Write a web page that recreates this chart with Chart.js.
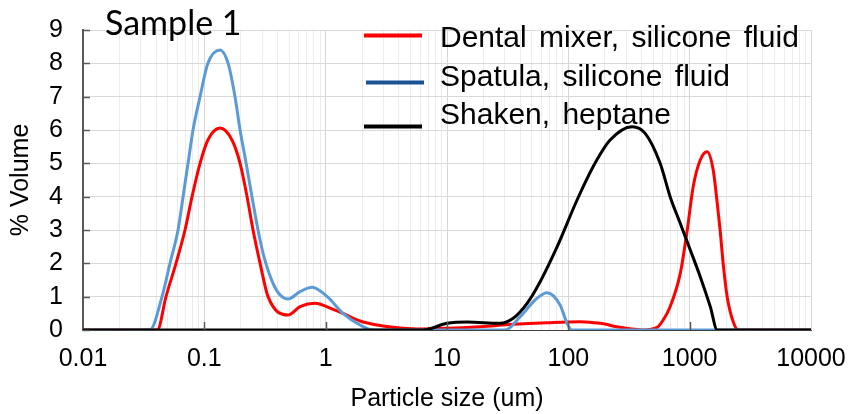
<!DOCTYPE html>
<html>
<head>
<meta charset="utf-8">
<script src="https://cdn.jsdelivr.net/npm/chart.js@4.4.1/dist/chart.umd.min.js"></script>
<style>
  html, body { margin: 0; padding: 0; background: #fff; }
  #wrap { position: relative; width: 852px; height: 414px; }
</style>
</head>
<body>
<div id="wrap"><canvas id="psd" width="852" height="414"></canvas></div>
<script>
// particle size (um) / % volume
const dentalSize = [0.01, 0.041, 0.0483, 0.0584, 0.0693, 0.0792, 0.0922, 0.107, 0.1346, 0.169, 0.197, 0.225, 0.252, 0.288, 0.335, 0.49, 0.615, 0.818, 1.15, 1.39, 1.92, 2.65, 3.6, 5.66, 10, 18.8, 35.1, 66.8, 125, 183, 267, 414, 540, 605, 690, 837, 955, 1069, 1222, 1393, 1563, 1688, 1782, 1888, 2037, 2284, 2512, 10000];
const dentalVol  = [0, 0, 1, 2, 3, 4, 5, 5.7, 6.06, 5.7, 5, 4, 3, 2, 1, 0.45, 0.7, 0.8, 0.62, 0.5, 0.27, 0.15, 0.08, 0.03, 0.05, 0.1, 0.17, 0.22, 0.25, 0.2, 0.08, 0, 0.08, 0.3, 0.7, 1.7, 3.0, 4.3, 5.1, 5.35, 4.8, 3.8, 3.0, 2.0, 1.0, 0.25, 0, 0];

const spatulaSize = [0.01, 0.0356, 0.0448, 0.0521, 0.0607, 0.0668, 0.0734, 0.0807, 0.0922, 0.107, 0.1346, 0.157, 0.179, 0.197, 0.221, 0.247, 0.277, 0.31, 0.368, 0.421, 0.49, 0.615, 0.773, 1.03, 1.39, 1.92, 2.46, 30.1, 40.1, 53.2, 66.8, 85.5, 97.7, 107, 10000];
const spatulaVol  = [0, 0, 1, 2, 3, 4, 5, 6, 7, 8, 8.4, 8, 7, 6, 5, 4, 3, 2.2, 1.4, 1.05, 0.93, 1.15, 1.28, 1.0, 0.5, 0.15, 0, 0, 0.4, 0.9, 1.12, 0.75, 0.2, 0, 0];

const shakenSize = [0.01, 6.35, 10, 14.7, 27.4, 35.1, 45.7, 58.6, 80.9, 118, 160, 221, 336, 430, 571, 690, 836, 1012, 1222, 1479, 1688, 10000];
const shakenVol  = [0, 0, 0.2, 0.24, 0.2, 0.35, 0.8, 1.45, 2.5, 3.9, 4.9, 5.7, 6.1, 5.9, 5.0, 4.0, 3.2, 2.4, 1.6, 0.7, 0, 0];

const seriesNames = ['Dental mixer, silicone fluid', 'Spatula, silicone fluid', 'Shaken, heptane'];
const seriesColors = ['#FF0000', '#5B9BD5', '#000000'];
const legendColors = ['#FF0000', '#1A5296', '#000000'];

const xDecades = [0.01, 0.1, 1, 10, 100, 1000, 10000];
const xTickLabels = ['0.01', '0.1', '1', '10', '100', '1000', '10000'];
const yTicks = [0, 1, 2, 3, 4, 5, 6, 7, 8, 9];

const chartTitle = 'Sample 1';
const xTitle = 'Particle size (um)';
const yTitle = '% Volume';

const toPoints = (xs, ys) => xs.map((x, i) => ({ x: x, y: ys[i] }));

// gridline positions: 1..9 inside every decade
const xGrid = [];
xDecades.slice(0, -1).forEach(d => {
    for (let k = 1; k <= 9; k++) xGrid.push(k === 1 ? d : k * d);
});
xGrid.push(xDecades[xDecades.length - 1]);

const decorPlugin = {
    id: 'decor',
    afterDatasetsDraw(chart) {
        const { ctx, chartArea, scales } = chart;
        ctx.save();
        // small inward ticks on both axes
        ctx.strokeStyle = '#595959';
        ctx.lineWidth = 1.5;
        xDecades.slice(1, -1).forEach(v => {
            const px = Math.round(scales.x.getPixelForValue(v)) + 0.5;
            ctx.beginPath();
            ctx.moveTo(px, chartArea.bottom);
            ctx.lineTo(px, chartArea.bottom - 8);
            ctx.stroke();
        });
        yTicks.forEach(v => {
            const py = Math.round(scales.y.getPixelForValue(v)) + 0.5;
            ctx.beginPath();
            ctx.moveTo(chartArea.left, py);
            ctx.lineTo(chartArea.left + 7, py);
            ctx.stroke();
        });

        // title
        ctx.fillStyle = '#000';
        ctx.textBaseline = 'alphabetic';
        ctx.textAlign = 'left';
        ctx.font = '34px Lato';
        ctx.fillText(chartTitle, 105, 35);

        // legend
        const lineY = [35.5, 82.5, 126.5];
        const textY = [47, 86, 124];
        ctx.font = '30px "Liberation Sans"';
        if ('wordSpacing' in ctx) ctx.wordSpacing = '4px';
        seriesNames.forEach((name, i) => {
            ctx.strokeStyle = legendColors[i];
            ctx.lineWidth = 4;
            ctx.beginPath();
            ctx.moveTo(i === 1 ? 366 : 364, lineY[i]);
            ctx.lineTo(i === 1 ? 424 : 422, lineY[i]);
            ctx.stroke();
            ctx.fillText(name, 440, textY[i]);
        });
        ctx.restore();
    }
};

const lineDefaults = {
    showLine: true,
    pointRadius: 0,
    pointHoverRadius: 0,
    borderWidth: 3,
    fill: false,
    cubicInterpolationMode: 'monotone'
};

new Chart(document.getElementById('psd').getContext('2d'), {
    type: 'scatter',
    data: {
        datasets: [
            { ...lineDefaults, label: seriesNames[0], data: toPoints(dentalSize, dentalVol), borderColor: seriesColors[0], order: 3 },
            { ...lineDefaults, label: seriesNames[1], data: toPoints(spatulaSize, spatulaVol), borderColor: seriesColors[1], order: 2 },
            { ...lineDefaults, label: seriesNames[2], data: toPoints(shakenSize, shakenVol), borderColor: seriesColors[2], order: 1 }
        ]
    },
    options: {
        responsive: false,
        animation: false,
        layout: { padding: { top: 30, right: 41, left: 0, bottom: 0 } },
        plugins: {
            legend: { display: false },
            tooltip: { enabled: false }
        },
        scales: {
            x: {
                type: 'logarithmic',
                min: 0.01,
                max: 10000,
                afterBuildTicks: scale => {
                    scale.ticks = xGrid.map(v => ({ value: v, major: xDecades.includes(v) }));
                },
                afterFit: scale => {
                    scale.height = 84;
                    scale.paddingLeft = 0;
                    scale.paddingRight = 0;
                },
                ticks: {
                    autoSkip: false,
                    maxRotation: 0,
                    minRotation: 0,
                    padding: 14,
                    color: '#000',
                    font: { family: '"Liberation Sans"', size: 25 },
                    callback: value => {
                        const i = xDecades.indexOf(value);
                        return i >= 0 ? xTickLabels[i] : '';
                    }
                },
                grid: {
                    drawTicks: false,
                    color: ctx => (ctx.tick && xDecades.includes(ctx.tick.value)) ? '#D6D6D6' : '#ECECEC',
                    lineWidth: 1
                },
                border: { display: true, color: '#404040', width: 1 },
                title: {
                    display: true,
                    text: xTitle,
                    color: '#000',
                    font: { family: '"Liberation Sans"', size: 25, lineHeight: 1 },
                    padding: { top: 0, bottom: 2 }
                }
            },
            y: {
                min: 0,
                max: 9,
                afterFit: scale => {
                    scale.width = 83;
                    scale.paddingTop = 0;
                    scale.paddingBottom = 0;
                },
                ticks: {
                    stepSize: 1,
                    autoSkip: false,
                    padding: 20,
                    color: '#000',
                    font: { family: '"Liberation Sans"', size: 25 }
                },
                grid: {
                    drawTicks: false,
                    color: '#D9D9D9',
                    lineWidth: 1
                },
                border: { display: true, color: '#595959', width: 2 },
                title: {
                    display: true,
                    text: yTitle,
                    color: '#000',
                    font: { family: '"Liberation Sans"', size: 25, lineHeight: 1 },
                    padding: { top: 9, bottom: 0 }
                }
            }
        }
    },
    plugins: [decorPlugin]
});
</script>
</body>
</html>
